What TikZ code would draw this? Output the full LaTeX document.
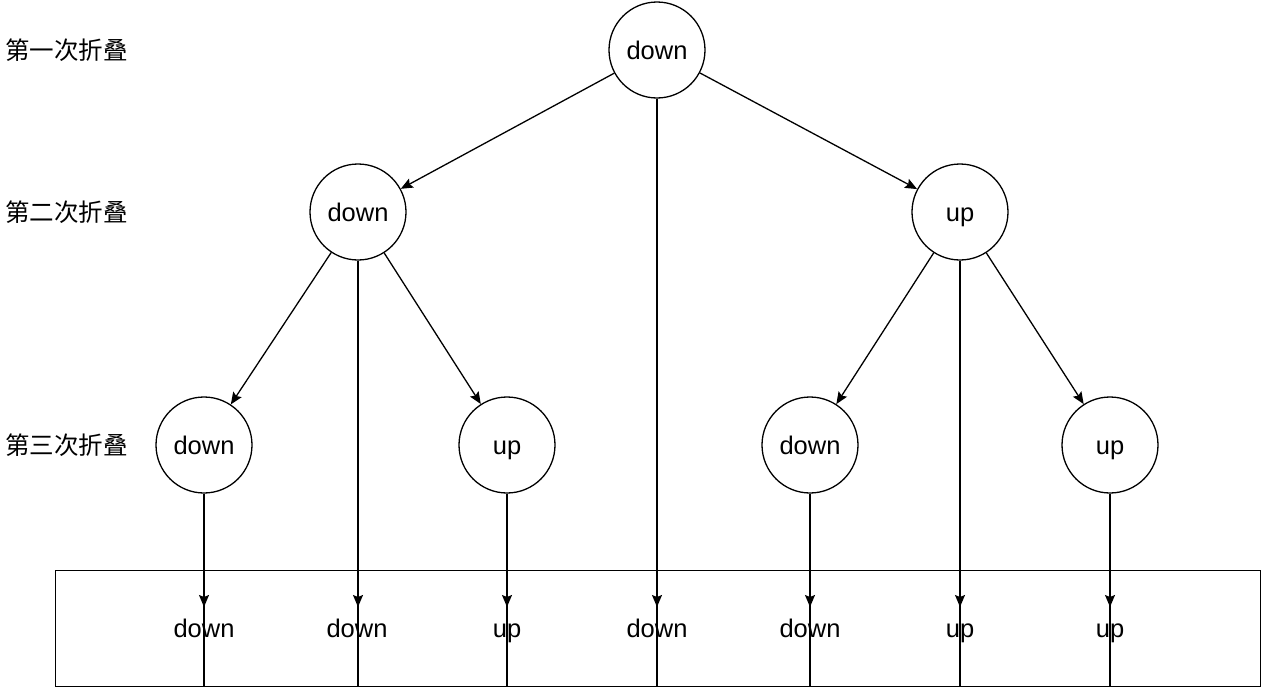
\documentclass[tikz,border=0pt]{standalone}
\usepackage{fontspec}
\setmainfont{Liberation Sans}
\newfontfamily\cjk{Noto Sans CJK SC}
\usetikzlibrary{arrows.meta}
\begin{document}
\begin{tikzpicture}[x=1pt,y=-1pt,
  fold/.style={circle,draw,line width=1.3pt,minimum size=96pt,inner sep=0pt,
    text height=18.5pt,text depth=0pt,font=\fontsize{25.5}{30}\selectfont},
  lbl/.style={font=\cjk\fontsize{24.5}{28}\selectfont,anchor=west,inner sep=0pt},
  res/.style={font=\fontsize{25.5}{30}\selectfont,anchor=base,inner sep=0pt},
  plainline/.style={line width=1.3pt},
  conn/.style={line width=1.3pt,-{Stealth[length=12pt,width=10pt,inset=2pt]}}]
\useasboundingbox (0,0) rectangle (1264,688);
% labels
\node[lbl] (l1) at (5,50) {第一次折叠};
\node[lbl] (l2) at (5,212) {第二次折叠};
\node[lbl] (l3) at (5,445) {第三次折叠};
% tree
\node[fold] (r) at (657,50) {down};
\node[fold] (a) at (358,212) {down};
\node[fold] (b) at (960,212) {up};
\node[fold] (a1) at (204,445) {down};
\node[fold] (a2) at (507,445) {up};
\node[fold] (b1) at (810,445) {down};
\node[fold] (b2) at (1110,445) {up};
\draw[conn] (r) -- (a);
\draw[conn] (r) -- (b);
\draw[conn] (a) -- (a1);
\draw[conn] (a) -- (a2);
\draw[conn] (b) -- (b1);
\draw[conn] (b) -- (b2);
% result box
\node[draw,line width=1.3pt,minimum width=1205pt,minimum height=116pt,inner sep=0pt,anchor=north west] (box) at (55,570) {};
\node[res] (t1) at (204,637) {down};
\node[res] (t2) at (357,637) {down};
\node[res] (t3) at (507,637) {up};
\node[res] (t4) at (657,637) {down};
\node[res] (t5) at (810,637) {down};
\node[res] (t6) at (960,637) {up};
\node[res] (t7) at (1110,637) {up};
\foreach \s/\i in {a1/1,a/2,a2/3,r/4,b1/5,b/6,b2/7} {
  \coordinate (tip\i) at (\s.south |- 0,607);
  \coordinate (end\i) at (\s.south |- box.south);
  \draw[plainline] (\s) -- (end\i);
  \draw[conn] (\s) -- (tip\i);
}
\end{tikzpicture}
\end{document}
